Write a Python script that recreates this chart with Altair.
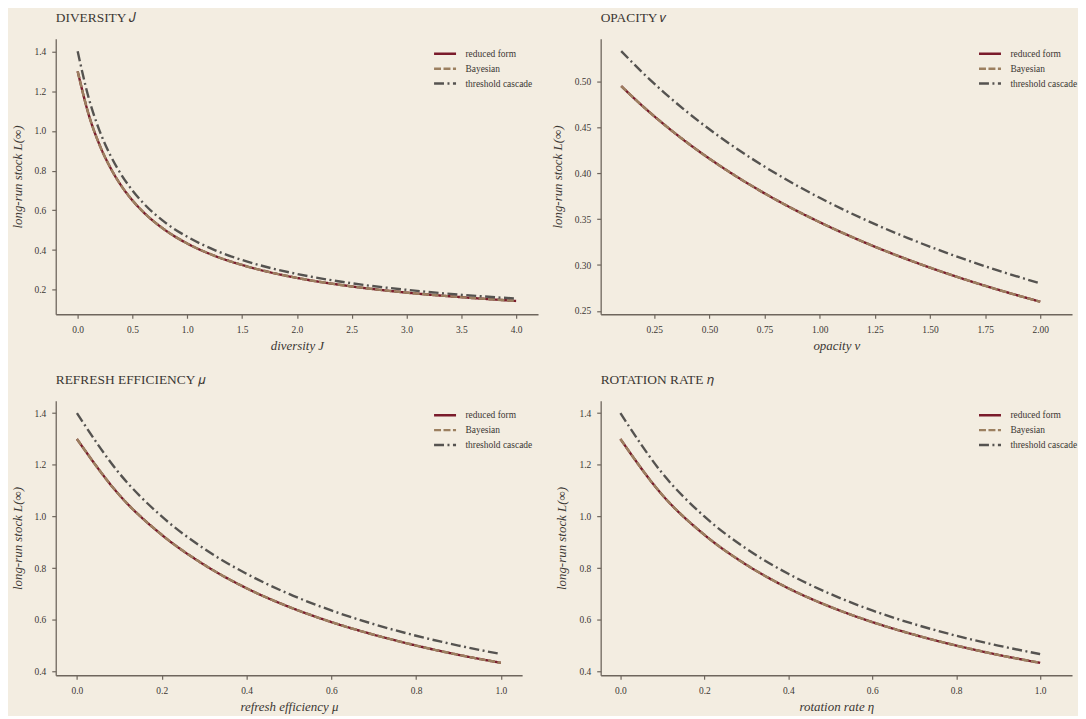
import altair as alt
import pandas as pd

FONT = "Liberation Serif"
BG = "#f3ede1"
AXIS_COL = "#6e665d"
TEXT_COL = "#3b3733"

SERIES = ["reduced form", "Bayesian", "threshold cascade"]
COLORS = ["#7a1b2b", "#9c8060", "#555350"]
DASHES = [[1, 0], [7, 2.5], [10, 3.5, 2, 3.5]]

# Panel 1: diversity J
div_x = [0, 0.1, 0.2, 0.3, 0.4, 0.5, 0.6, 0.8, 1.0, 1.25, 1.5, 1.75, 2.0, 2.5, 3.0, 3.5, 4.0]
div_reduced = [1.300, 1.083, 0.929, 0.813, 0.722, 0.650, 0.591, 0.500, 0.433, 0.371, 0.325, 0.289, 0.260, 0.217, 0.186, 0.163, 0.144]
div_bayes = [1.300, 1.083, 0.929, 0.813, 0.722, 0.650, 0.591, 0.500, 0.433, 0.371, 0.325, 0.289, 0.260, 0.217, 0.186, 0.163, 0.144]
div_cascade = [1.400, 1.167, 1.000, 0.875, 0.778, 0.700, 0.636, 0.538, 0.467, 0.400, 0.350, 0.311, 0.280, 0.233, 0.200, 0.175, 0.156]

# Panel 2: opacity v
opa_x = [0.1, 0.2, 0.3, 0.4, 0.5, 0.6, 0.8, 1.0, 1.2, 1.4, 1.6, 1.8, 2.0]
opa_reduced = [0.4952, 0.4727, 0.4522, 0.4333, 0.4160, 0.4000, 0.3714, 0.3467, 0.3250, 0.3059, 0.2889, 0.2737, 0.2600]
opa_bayes = [0.4952, 0.4727, 0.4522, 0.4333, 0.4160, 0.4000, 0.3714, 0.3467, 0.3250, 0.3059, 0.2889, 0.2737, 0.2600]
opa_cascade = [0.5333, 0.5091, 0.4870, 0.4667, 0.4480, 0.4308, 0.4000, 0.3733, 0.3500, 0.3294, 0.3111, 0.2947, 0.2800]

# Panel 3: refresh efficiency mu
ref_x = [0, 0.1, 0.2, 0.3, 0.4, 0.5, 0.6, 0.7, 0.8, 0.9, 1.0]
ref_reduced = [1.300, 1.083, 0.929, 0.813, 0.722, 0.650, 0.591, 0.542, 0.500, 0.464, 0.433]
ref_bayes = [1.300, 1.083, 0.929, 0.813, 0.722, 0.650, 0.591, 0.542, 0.500, 0.464, 0.433]
ref_cascade = [1.400, 1.167, 1.000, 0.875, 0.778, 0.700, 0.636, 0.583, 0.538, 0.500, 0.467]

# Panel 4: rotation rate eta
rot_x = [0, 0.1, 0.2, 0.3, 0.4, 0.5, 0.6, 0.7, 0.8, 0.9, 1.0]
rot_reduced = [1.300, 1.083, 0.929, 0.813, 0.722, 0.650, 0.591, 0.542, 0.500, 0.464, 0.433]
rot_bayes = [1.300, 1.083, 0.929, 0.813, 0.722, 0.650, 0.591, 0.542, 0.500, 0.464, 0.433]
rot_cascade = [1.400, 1.167, 1.000, 0.875, 0.778, 0.700, 0.636, 0.583, 0.538, 0.500, 0.467]


def make_df(xs, red, bay, cas):
    rows = []
    for name, ys in zip(SERIES, [red, bay, cas]):
        for xv, yv in zip(xs, ys):
            rows.append({"x": xv, "y": yv, "series": name})
    return pd.DataFrame(rows)


def panel(df, title, xtitle, xdom, ydom, xticks, yticks, xfmt, yfmt, w, h, ly):
    leg = alt.Legend(title=None, orient="none", legendX=381.5, legendY=ly)
    return alt.Chart(df).mark_line(strokeWidth=2.4, interpolate="monotone").encode(
        x=alt.X("x:Q", scale=alt.Scale(domain=xdom, nice=False, zero=False),
                axis=alt.Axis(values=xticks, format=xfmt, title=xtitle)),
        y=alt.Y("y:Q", scale=alt.Scale(domain=ydom, nice=False, zero=False),
                axis=alt.Axis(values=yticks, format=yfmt, title="long-run stock L(∞)")),
        color=alt.Color("series:N", scale=alt.Scale(domain=SERIES, range=COLORS), legend=leg),
        strokeDash=alt.StrokeDash("series:N", scale=alt.Scale(domain=SERIES, range=DASHES), legend=leg),
    ).properties(
        width=w, height=h,
        title=alt.TitleParams(title, anchor="start", frame="group", font=FONT,
                              fontSize=13.5, fontWeight="normal", color=TEXT_COL, offset=14),
    )


p1 = panel(make_df(div_x, div_reduced, div_bayes, div_cascade), "DIVERSITY 𝐽", "diversity J",
           [-0.2, 4.2], [0.077, 1.463], [0, 0.5, 1.0, 1.5, 2.0, 2.5, 3.0, 3.5, 4.0],
           [0.2, 0.4, 0.6, 0.8, 1.0, 1.2, 1.4], ".1f", ".1f", 485, 277, 5)
p2 = panel(make_df(opa_x, opa_reduced, opa_bayes, opa_cascade), "OPACITY 𝑣", "opacity v",
           [0.007, 2.144], [0.2463, 0.5467], [0.25, 0.5, 0.75, 1.0, 1.25, 1.5, 1.75, 2.0],
           [0.25, 0.30, 0.35, 0.40, 0.45, 0.50], ".2f", ".2f", 474, 277, 5)
p3 = panel(make_df(ref_x, ref_reduced, ref_bayes, ref_cascade), "REFRESH EFFICIENCY 𝜇", "refresh efficiency μ",
           [-0.05, 1.05], [0.385, 1.448], [0, 0.2, 0.4, 0.6, 0.8, 1.0],
           [0.4, 0.6, 0.8, 1.0, 1.2, 1.4], ".1f", ".1f", 469, 276, 4.5)
p4 = panel(make_df(rot_x, rot_reduced, rot_bayes, rot_cascade), "ROTATION RATE 𝜂", "rotation rate η",
           [-0.047, 1.076], [0.385, 1.448], [0, 0.2, 0.4, 0.6, 0.8, 1.0],
           [0.4, 0.6, 0.8, 1.0, 1.2, 1.4], ".1f", ".1f", 474, 276, 4.5)

chart = alt.concat(
    p1, p2, p3, p4, columns=2, spacing={"row": 87, "column": 63}, bounds="flush"
).resolve_scale(
    color="independent", strokeDash="independent"
).properties(
    background=BG, padding={"left": 3, "top": 1, "right": 0, "bottom": 0},
).configure_view(
    stroke=None,
).configure_axis(
    grid=False,
    domainColor=AXIS_COL, domainWidth=1.3,
    tickColor=AXIS_COL, tickWidth=1.2, tickSize=4,
    labelFont=FONT, labelFontSize=9.5, labelColor=TEXT_COL, labelPadding=6,
    titleFont=FONT, titleFontSize=13, titleFontStyle="italic", titleFontWeight="normal",
    titleColor=TEXT_COL,
).configure_axisX(titlePadding=6).configure_axisY(titlePadding=10).configure_legend(
    symbolType="M-1.3,0H1.3", symbolSize=289, symbolStrokeWidth=2.5,
    labelFont=FONT, labelFontSize=9.5, labelColor=TEXT_COL, labelOffset=10.5,
    rowPadding=-1.5, padding=0,
)

chart.save("out.html", embed_options={"renderer": "svg", "actions": False})
